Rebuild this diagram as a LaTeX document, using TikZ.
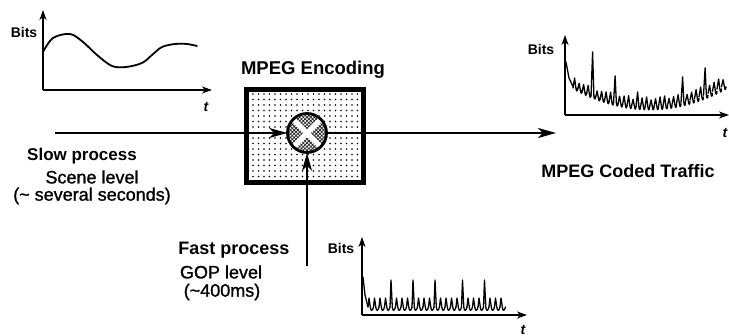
\documentclass[tikz,border=0pt]{standalone}
\usepackage{fontspec}
\setmainfont{Liberation Sans}
\newfontfamily\medfont[FakeBold=1.2]{Liberation Sans}
\usetikzlibrary{arrows.meta,patterns.meta}
\begin{document}
\begin{tikzpicture}[x=1pt,y=-1pt,
  axis/.style={line width=1.7pt,-{Stealth[length=10pt,width=7pt,inset=3pt]}},
  curve/.style={line width=1.8pt,line join=round,line cap=round},
  spike/.style={line width=1.3pt,line join=round,line cap=round},
  flow/.style={line width=2.5pt,-{Stealth[length=18pt,width=10pt,inset=5pt]}},
  title/.style={font=\bfseries\fontsize{17}{20}\selectfont},
  sub/.style={font=\medfont\fontsize{18}{21}\selectfont},
  bits/.style={font=\bfseries\fontsize{14}{16}\selectfont},
  tlab/.style={font=\bfseries\itshape\fontsize{14}{16}\selectfont}]
\useasboundingbox (0,0) rectangle (729,336);

% ---------- encoder box ----------
\node[draw, line width=4.8pt, minimum width=117pt, minimum height=93pt,
      pattern={Dots[distance=5.5pt,radius=0.8pt]}] (enc) at (305,136) {};
\node[title,font=\bfseries\fontsize{18.5}{22}\selectfont] (enctitle) at (313,70) {MPEG Encoding};

\node[circle, draw, line width=2.8pt, minimum size=39pt,
      preaction={fill=white},
      pattern={Hatch[distance=2.6pt,angle=45,line width=0.75pt]}, pattern color=black!85,
      path picture={
        \draw[white,line width=5pt]
          ([shift={(-3pt,3pt)}]path picture bounding box.north west) -- ([shift={(3pt,-3pt)}]path picture bounding box.south east);
        \draw[white,line width=5pt]
          ([shift={(3pt,3pt)}]path picture bounding box.north east) -- ([shift={(-3pt,-3pt)}]path picture bounding box.south west);
      }] (mix) at (307,133) {};

% ---------- flows ----------
\coordinate (in) at (55,133);
\coordinate (out) at (556,133);
\coordinate (fast) at (307,266);
\draw[flow] (in) -- (mix.west);
\draw[flow] (mix.east) -- (out);
\draw[flow] (fast) -- (mix.south);

% ---------- labels ----------
\node[title] (slow) at (82,156) {Slow process};
\node[sub] (scene) at (92,177) {Scene level};
\node[sub] (secs) at (92,196) {(\char"007E{} several seconds)};
\node[title,font=\bfseries\fontsize{18}{21}\selectfont] (fastp) at (234,250) {Fast process};
\node[sub] (gop) at (221,272) {GOP level};
\node[sub] (ms) at (222,292) {(\char"007E 400ms)};
\node[title,font=\bfseries\fontsize{18}{21}\selectfont] (coded) at (628,171) {MPEG Coded Traffic};

% ---------- top-left graph (scene level) ----------
\coordinate (o1) at (43,90);
\coordinate (y1) at (43,10);
\coordinate (x1) at (212,90);
\draw[axis] (o1) -- (y1);
\draw[axis] (o1) -- (x1);
\node[bits] (b1) at (24,33) {Bits};
\node[tlab] (t1) at (206,107) {t};
\draw[curve] plot[smooth,tension=0.55] coordinates {
  (43,52) (53,38) (70,34) (83,42) (97,55) (112,66) (126,67) (142,63)
  (152,55) (162,47) (175,44) (187,44) (197,46)};

% ---------- right graph (coded traffic) ----------
\coordinate (o2) at (565,115);
\coordinate (y2) at (565,35);
\coordinate (x2) at (729,115);
\draw[axis] (o2) -- (y2);
\draw[axis] (o2) -- (x2);
\node[bits] (b2) at (541,50) {Bits};
\node[tlab] (t2) at (725,133) {t};
\draw[spike] (566,62) -- (569,78) -- (573,86.5);
\foreach \k in {0,...,33} {
  \pgfmathsetmacro\xa{574+4.5*\k}
  \pgfmathsetmacro\xb{\xa+4.5}
  \pgfmathsetmacro\ta{110-0.003556*(\xa+3-650)^2}
  \pgfmathtruncatemacro\m{mod(\k,5)}
  \ifnum\m=4
    \pgfmathsetmacro\pk{{52,76,92,97,77,68,60}[int(\k/5)]}
  \else
    \pgfmathsetmacro\pk{\ta-13+mod(\k*7,4)}
  \fi
  \draw[spike] (\xa-1,\ta-3) -- (\xa+0.6,\pk) -- (\xa+1.9,\ta-3)
     .. controls (\xa+2.3,\ta+0.8) and (\xa+3.3,\ta+0.8) .. (\xb-1,\ta-3);
}

% ---------- bottom graph (GOP level) ----------
\coordinate (o3) at (362,315);
\coordinate (y3) at (362,237);
\coordinate (x3) at (527,315);
\draw[axis] (o3) -- (y3);
\draw[axis] (o3) -- (x3);
\node[bits] (b3) at (341,248) {Bits};
\node[tlab] (t3) at (523,330) {t};
\draw[spike] (363,277) -- (365,295) -- (368,307);
\foreach \k in {0,...,24} {
  \pgfmathsetmacro\xa{368+5.5*\k}
  \pgfmathsetmacro\xb{\xa+5.5}
  \pgfmathtruncatemacro\big{(\k==4)||(\k==8)||(\k==12)||(\k==17)||(\k==21)}
  \ifnum\big=1
    \pgfmathsetmacro\pk{280}
  \else
    \pgfmathsetmacro\pk{298}
  \fi
  \draw[spike] (\xa,307) -- (\xa+1,\pk) -- (\xa+2.3,307)
     .. controls (\xa+2.8,311.5) and (\xa+4.3,311.5) .. (\xb,307);
}
\end{tikzpicture}
\end{document}
